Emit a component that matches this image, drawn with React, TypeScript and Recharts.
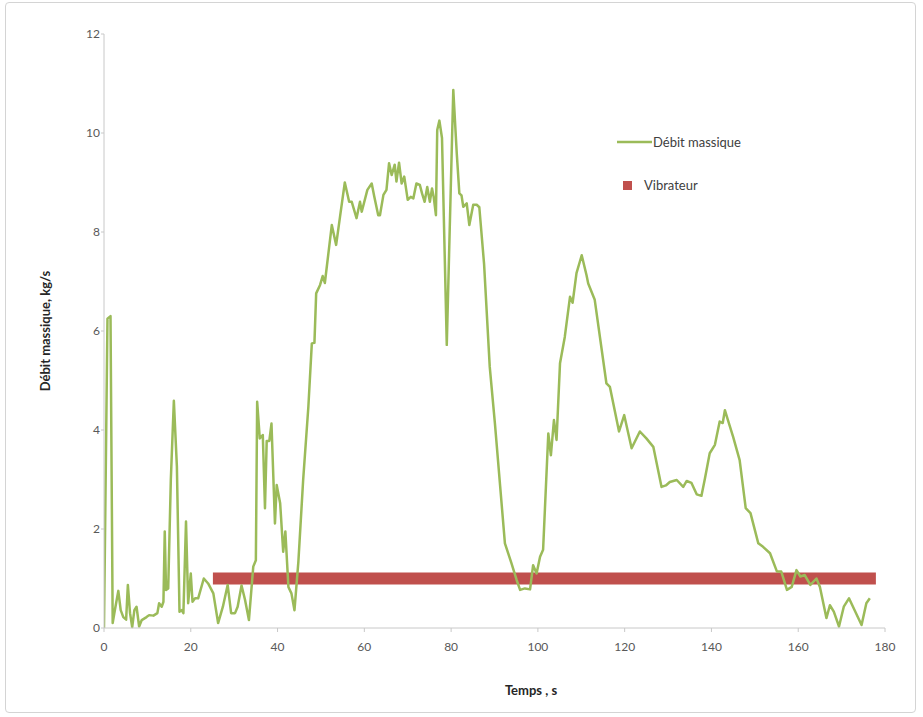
import React from 'react';
import { LineChart, Line, XAxis, YAxis } from 'recharts';

// temps (s) et débit massique (kg/s)
const temps = [
  0, 0.8, 1.5, 2.0, 2.5, 3.3, 3.85, 4.45, 5.1, 5.5, 6.0, 6.5, 7.0, 7.5, 8.1, 8.7, 9.8, 10.4, 11.4, 12.3,
  12.7, 13.3, 13.7, 14.0, 14.3, 14.8, 15.4, 16.1, 16.8, 17.4, 17.9, 18.3, 18.9, 19.4, 20.0, 20.4, 21.0, 21.7, 23.0, 24.0,
  25.2, 26.3, 27.4, 28.5, 29.3, 30.2, 30.8, 31.7, 32.5, 33.4, 34.4, 35.0, 35.3, 35.9, 36.6, 37.1, 37.5, 38.1, 38.6, 39.4,
  39.8, 40.6, 41.3, 41.8, 42.5, 43.2, 43.9, 44.8, 45.9, 47.1, 47.9, 48.5, 48.9, 49.8, 50.4, 50.9, 52.5, 53.5, 54.4, 55.5,
  56.5, 57.1, 58.2, 59.0, 59.4, 60.7, 61.7, 62.3, 63.2, 63.6, 64.4, 65.1, 65.7, 66.3, 67.0, 67.4, 68.0, 68.6, 69.2, 70.0,
  70.7, 71.3, 72.0, 72.8, 73.3, 73.9, 74.5, 75.1, 75.6, 76.0, 76.5, 76.8, 77.3, 77.9, 79.0, 80.5, 81.3, 81.9, 82.4, 82.8,
  83.6, 84.2, 85.1, 85.9, 86.5, 87.6, 88.9, 90.1, 92.4, 93.9, 95.1, 95.9, 97.0, 98.2, 98.9, 99.7, 100.5, 101.2, 102.4, 103.0,
  103.7, 104.3, 105.1, 106.2, 107.4, 108.0, 108.9, 110.1, 111.2, 111.6, 113.1, 115.8, 116.6, 118.7, 119.9, 121.6, 123.5, 125.0, 126.6, 128.5,
  129.5, 130.4, 132.0, 133.5, 134.3, 135.4, 136.6, 137.7, 138.5, 139.6, 140.8, 141.9, 142.6, 143.1, 143.8, 145.0, 146.5, 147.9, 149.0, 150.8,
  151.9, 153.5, 155.1, 156.1, 157.4, 158.5, 159.6, 160.5, 161.5, 162.8, 164.2, 165.0, 166.5, 167.3, 168.2, 169.4, 170.5, 171.7, 173.0, 174.6,
  175.7, 176.5,
];

const debit = [
  0, 6.25, 6.3, 0.1, 0.36, 0.75, 0.36, 0.22, 0.17, 0.87, 0.3, 0.02, 0.36, 0.43, 0.03, 0.16, 0.22, 0.26, 0.25, 0.3,
  0.5, 0.43, 0.53, 1.95, 0.77, 0.8, 2.99, 4.59, 3.26, 0.33, 0.36, 0.3, 2.15, 0.5, 1.1, 0.53, 0.6, 0.6, 1.0, 0.9,
  0.7, 0.1, 0.43, 0.87, 0.3, 0.3, 0.43, 0.86, 0.57, 0.16, 1.24, 1.37, 4.57, 3.83, 3.9, 2.42, 3.78, 3.78, 4.13, 2.11,
  2.89, 2.52, 1.54, 1.95, 0.83, 0.7, 0.36, 1.34, 2.99, 4.47, 5.75, 5.76, 6.76, 6.93, 7.11, 6.97, 8.14, 7.74, 8.31, 9.0,
  8.61, 8.61, 8.28, 8.61, 8.41, 8.85, 8.98, 8.71, 8.34, 8.34, 8.75, 8.85, 9.39, 9.15, 9.36, 9.02, 9.4, 8.98, 9.12, 8.65,
  8.71, 8.68, 8.98, 8.95, 8.78, 8.61, 8.91, 8.61, 8.88, 8.7, 8.34, 10.06, 10.25, 9.9, 5.72, 10.87, 9.59, 8.78, 8.74, 8.51,
  8.58, 8.14, 8.55, 8.55, 8.5, 7.35, 5.28, 4.13, 1.71, 1.31, 0.97, 0.77, 0.8, 0.78, 1.27, 1.1, 1.44, 1.58, 3.93, 3.49,
  4.2, 3.8, 5.35, 5.88, 6.69, 6.57, 7.17, 7.53, 7.13, 6.96, 6.63, 4.94, 4.87, 3.97, 4.3, 3.63, 3.97, 3.83, 3.66, 2.85,
  2.88, 2.95, 2.99, 2.85, 2.97, 2.93, 2.7, 2.67, 3.02, 3.53, 3.7, 4.17, 4.14, 4.4, 4.2, 3.86, 3.39, 2.42, 2.32, 1.71,
  1.64, 1.51, 1.14, 1.14, 0.77, 0.83, 1.17, 1.04, 1.07, 0.87, 1.0, 0.83, 0.2, 0.46, 0.33, 0.03, 0.43, 0.6, 0.36, 0.06,
  0.5, 0.6,
];

// vibrateur en marche : début / fin (s) et niveau
const vibrateurTemps = [25.1, 177.9];
const vibrateurNiveau = 1.0;

const xTicks = [0, 20, 40, 60, 80, 100, 120, 140, 160, 180];
const yTicks = [0, 2, 4, 6, 8, 10, 12];

const debitData = temps.map((t, i) => ({ t, v: debit[i] }));
const vibData = vibrateurTemps.map((t) => ({ t, v: vibrateurNiveau }));

const GREEN = '#9bbb59';
const RED = '#c0504d';
const FONT = 'Lato, "Liberation Sans", sans-serif';

const LegendBox = () => (
  <svg width={180} height={70} style={{ position: 'absolute', left: 610, top: 130 }}>
    <line x1={7} y1={12} x2={42} y2={12} stroke={GREEN} strokeWidth={2.5} />
    <text x={43} y={17} fontSize={13} fill="#404040" fontFamily={FONT}>Débit massique</text>
    <rect x={13} y={51} width={9} height={9} fill={RED} />
    <text x={34} y={60} fontSize={13} fill="#404040" fontFamily={FONT}>Vibrateur</text>
  </svg>
);

export default function App() {
  return (
    <div style={{ position: 'absolute', left: 0, top: 0, width: 923, height: 717, background: '#fff' }}>
      <div
        style={{
          position: 'absolute', left: 5, top: 2, width: 911, height: 711,
          border: '1px solid #d4d4d4', borderRadius: 4, boxSizing: 'border-box',
        }}
      />
      <LineChart
        width={923}
        height={717}
        margin={{ top: 34, right: 38, bottom: 59, left: 44 }}
        style={{ position: 'absolute', left: 0, top: 0 }}
      >
        <XAxis
          type="number"
          dataKey="t"
          domain={[0, 180]}
          ticks={xTicks}
          allowDataOverflow
          height={30}
          stroke="#c8c8c8"
          tickSize={4}
          tickMargin={10}
          tick={{ fill: '#595959', fontSize: 12, fontFamily: FONT }}
          label={{
            content: () => (
              <text x={531} y={695} textAnchor="middle" fontSize={13} fontWeight="bold" fill="#262626" fontFamily={FONT}>
                Temps , s
              </text>
            ),
          }}
        />
        <YAxis
          type="number"
          domain={[0, 12]}
          ticks={yTicks}
          width={60}
          stroke="#c8c8c8"
          tickSize={3}
          tickMargin={1}
          tick={{ fill: '#595959', fontSize: 12, fontFamily: FONT }}
          label={{
            content: () => (
              <text
                x={50}
                y={331}
                transform="rotate(-90 50 331)"
                textAnchor="middle"
                fontSize={13}
                fontWeight="bold"
                fill="#262626"
                fontFamily={FONT}
              >
                Débit massique, kg/s
              </text>
            ),
          }}
        />
        <Line
          data={vibData}
          dataKey="v"
          name="Vibrateur"
          stroke={RED}
          strokeWidth={12}
          strokeLinecap="butt"
          dot={false}
          isAnimationActive={false}
        />
        <Line
          data={debitData}
          dataKey="v"
          name="Débit massique"
          type="linear"
          stroke={GREEN}
          strokeWidth={2.5}
          strokeLinejoin="round"
          dot={false}
          isAnimationActive={false}
        />
      </LineChart>
      <LegendBox />
    </div>
  );
}
